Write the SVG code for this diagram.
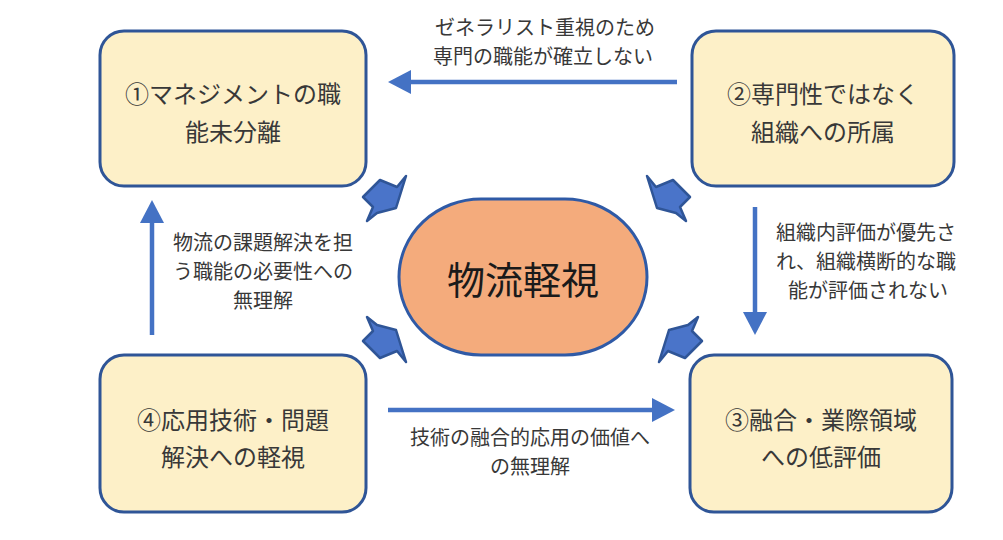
<svg xmlns="http://www.w3.org/2000/svg" width="1003" height="540" viewBox="0 0 1003 540">
<style>
.box{fill:#FDF0C8;stroke:#2F5597;stroke-width:3}
.core{fill:#F4AB7C;stroke:#2F5AA6;stroke-width:3}
.bt{font-family:"Noto Sans CJK JP","Noto Sans",sans-serif;font-size:24px;fill:#383838;text-anchor:middle;dominant-baseline:central}
.lt{font-family:"Noto Sans CJK JP","Noto Sans",sans-serif;font-size:20px;fill:#383838;text-anchor:middle;dominant-baseline:central}
.ct{font-family:"Noto Sans CJK JP","Noto Sans",sans-serif;font-size:38px;fill:#1a1a1a;text-anchor:middle;dominant-baseline:central}
.ln{stroke:#4472C4;stroke-width:4.5;fill:none;marker-end:url(#ah)}
.blk{fill:#4A74C9;stroke:#2F5597;stroke-width:2.5;stroke-linejoin:round}
</style>
<defs>
<marker id="ah" viewBox="0 0 23 24" refX="0" refY="12" markerWidth="23" markerHeight="24" markerUnits="userSpaceOnUse" orient="auto">
<path d="M0,0 L23,12 L0,24 Z" fill="#4472C4"/>
</marker>
<polygon id="blkarrow" points="380,180 397,187 406,176 396,208 377,213 367,221 373,207 363,197"/>
</defs>

<g id="node1">
<rect class="box" x="100" y="31" width="266" height="155" rx="24"/>
<text class="bt" x="233" y="92">①マネジメントの職</text>
<text class="bt" x="233" y="130">能未分離</text>
</g>
<g id="node2">
<rect class="box" x="692" y="31" width="262" height="155" rx="24"/>
<text class="bt" x="823" y="92">②専門性ではなく</text>
<text class="bt" x="823" y="130">組織への所属</text>
</g>
<g id="node3">
<rect class="box" x="690" y="355" width="262" height="157" rx="24"/>
<text class="bt" x="821" y="418">③融合・業際領域</text>
<text class="bt" x="821" y="455">への低評価</text>
</g>
<g id="node4">
<rect class="box" x="100" y="355" width="266" height="157" rx="24"/>
<text class="bt" x="233" y="418">④応用技術・問題</text>
<text class="bt" x="233" y="455">解決への軽視</text>
</g>
<g id="center">
<rect class="core" x="399" y="199" width="248" height="156" rx="82" ry="78"/>
<text class="ct" x="523" y="277">物流軽視</text>
</g>

<g id="connectors">
<line class="ln" x1="677" y1="82" x2="411" y2="82"/>
<line class="ln" x1="755" y1="207" x2="755" y2="312"/>
<line class="ln" x1="388" y1="410" x2="652" y2="410"/>
<line class="ln" x1="152" y1="335" x2="152" y2="223"/>
<use href="#blkarrow" class="blk"/>
<use href="#blkarrow" class="blk" transform="translate(1053,0) scale(-1,1)"/>
<use href="#blkarrow" class="blk" transform="translate(0,538) scale(1,-1)"/>
<use href="#blkarrow" class="blk" transform="translate(1065,538) scale(-1,-1)"/>
</g>

<g id="labels">
<text class="lt" x="545" y="26">ゼネラリスト重視のため</text>
<text class="lt" x="543" y="55">専門の職能が確立しない</text>
<text class="lt" x="866" y="231">組織内評価が優先さ</text>
<text class="lt" x="866" y="260">れ、組織横断的な職</text>
<text class="lt" x="868" y="289">能が評価されない</text>
<text class="lt" x="263" y="241">物流の課題解決を担</text>
<text class="lt" x="263" y="270">う職能の必要性への</text>
<text class="lt" x="263" y="299">無理解</text>
<text class="lt" x="530" y="436">技術の融合的応用の価値へ</text>
<text class="lt" x="530" y="465">の無理解</text>
</g>
</svg>
